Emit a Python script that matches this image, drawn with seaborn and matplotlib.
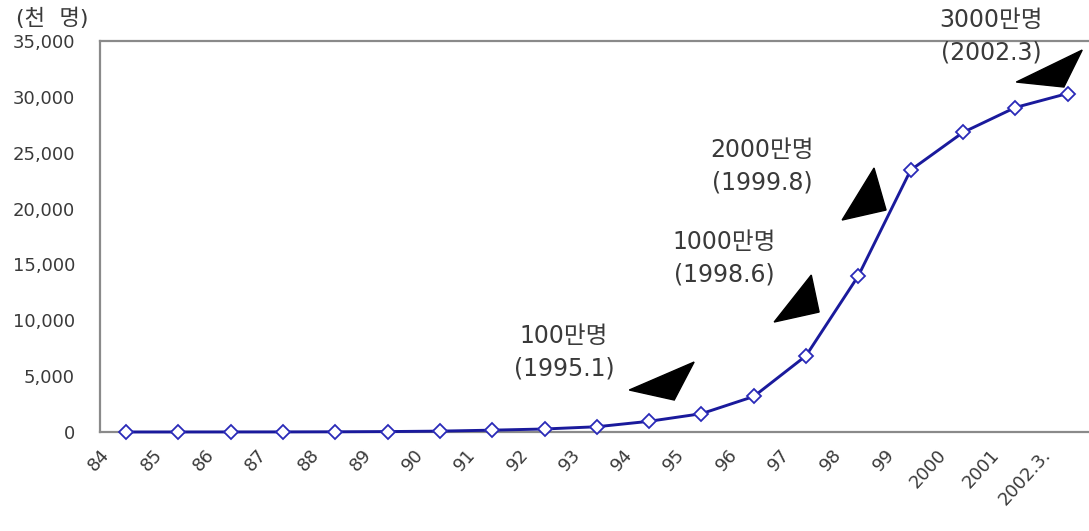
import numpy as np
import pandas as pd
import matplotlib
matplotlib.use("Agg")
import matplotlib.pyplot as plt
from matplotlib.patches import Polygon
import seaborn as sns

# data (thousand people)
years = ["84", "85", "86", "87", "88", "89", "90", "91", "92", "93",
         "94", "95", "96", "97", "98", "99", "2000", "2001", "2002.3."]
subscribers = [3, 5, 7, 10, 20, 40, 80, 166, 272, 472,
               960, 1641, 3181, 6828, 13983, 23443, 26816, 29046, 30300]
milestone_labels = ["100만명\n(1995.1)", "1000만명\n(1998.6)",
                    "2000만명\n(1999.8)", "3000만명\n(2002.3)"]

df = pd.DataFrame({"idx": np.arange(len(years)), "year": years, "value": subscribers})

sns.set_style("white")
plt.rcParams["font.family"] = ["DejaVu Sans", "Noto Sans CJK KR"]

fig = plt.figure(figsize=(10.89, 5.31), dpi=100)
ax = fig.add_axes([0.0918, 0.1864, 0.9082, 0.7364])

sns.lineplot(data=df, x="idx", y="value", ax=ax, color="#1a1a9c", linewidth=2.1,
             marker="D", markersize=7, markerfacecolor="white",
             markeredgecolor="#2a2ab8", markeredgewidth=1.3, clip_on=False, zorder=3)

ax.set_xlim(-0.5, 18.41)
ax.set_ylim(0, 35000)
ax.set_yticks(np.arange(0, 35001, 5000))
ax.set_yticklabels([f"{v:,}" for v in range(0, 35001, 5000)], fontsize=13, color="#3a3a3a")
ax.set_xticks(df["idx"] - 0.5)
ax.set_xticklabels(years, fontsize=13, color="#3a3a3a", rotation=48,
                   ha="right", va="top", rotation_mode="anchor")
ax.tick_params(axis="both", direction="in", length=5, color="#808080", width=1)
ax.tick_params(axis="x", pad=10)
ax.tick_params(axis="y", pad=18)
ax.set_xlabel("")
ax.set_ylabel("")

for side in ["left", "top", "bottom"]:
    ax.spines[side].set_color("#8a8a8a")
    ax.spines[side].set_linewidth(1.6)
ax.spines["right"].set_visible(False)

# milestone arrows (black wedge shapes) and labels
arrows = [
    [(9.62, 3760), (10.86, 6265), (10.48, 2864)],
    [(12.39, 9845), (13.10, 14050), (13.25, 10740)],
    [(13.69, 18975), (14.30, 23630), (14.53, 19870)],
    [(17.02, 31325), (18.28, 34190), (17.93, 30880)],
]
text_pos = [(8.37, 7160), (11.43, 15570), (12.16, 23800), (16.54, 35450)]

for tri in arrows:
    ax.add_patch(Polygon(tri, closed=True, facecolor="black", edgecolor="black",
                         clip_on=False, zorder=4))
for label, (tx, ty) in zip(milestone_labels, text_pos):
    ax.text(tx, ty, label, ha="center", va="center", fontsize=17,
            color="#3a3a3a", linespacing=1.45, clip_on=False)

fig.text(0.048, 0.966, "(천  명)", ha="center", va="center", fontsize=16, color="#3a3a3a")

fig.savefig("out.png", dpi=100)
